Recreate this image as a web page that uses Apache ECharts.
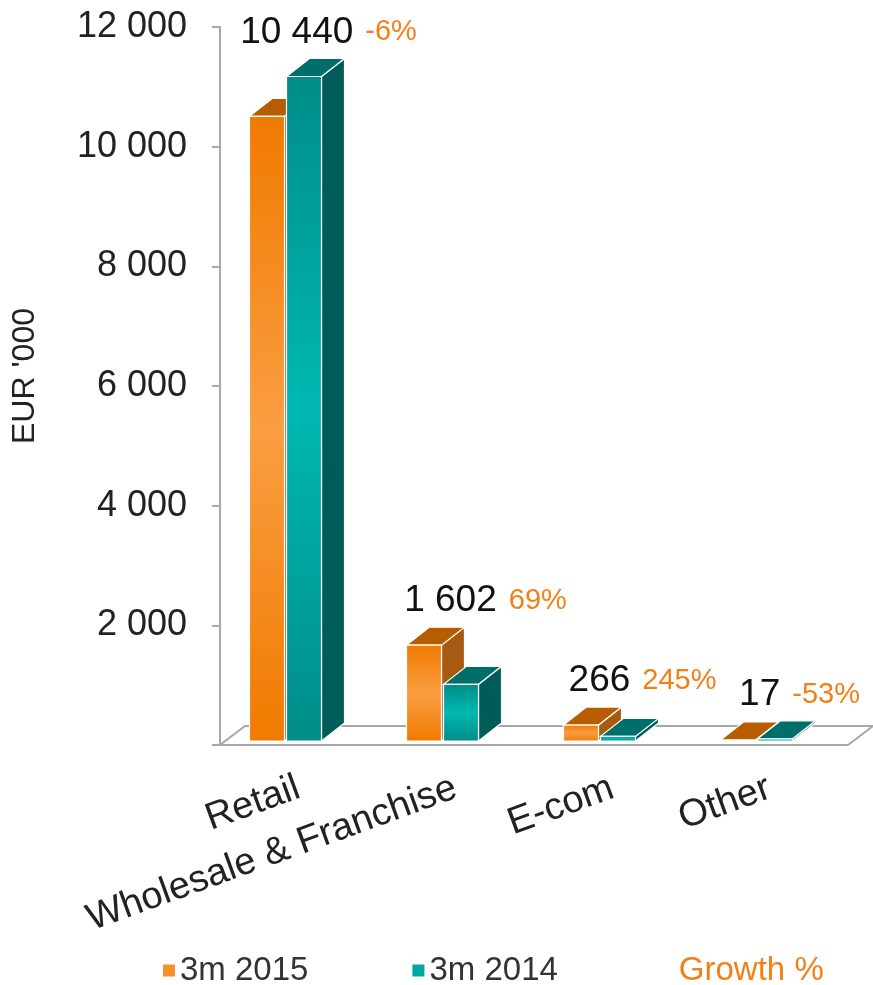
<!DOCTYPE html>
<html>
<head>
<meta charset="utf-8">
<script src="https://cdn.jsdelivr.net/npm/echarts@6/dist/echarts.min.js"></script>
<style>
  html, body { margin: 0; padding: 0; background: #fff; }
  #chart { width: 873px; height: 985px; }
</style>
</head>
<body>
<div id="chart"></div>
<script>
const categories = ['Retail', 'Wholesale & Franchise', 'E-com', 'Other'];
const sales2015 = [10440, 1602, 266, 17];
const sales2014 = [11106, 948, 77, 36];
const valueLabels = ['10 440', '1 602', '266', '17'];
const growthLabels = ['-6%', '69%', '245%', '-53%'];
const yTickLabels = ['', '2 000', '4 000', '6 000', '8 000', '10 000', '12 000'];

const FONT = 'Liberation Sans, Arial, sans-serif';
const ORANGE_TXT = '#F47F17';

// pseudo 3d look
const DX = 23, DY = 18, BAR_W = 35, BAR_GAP = 2, LIFT = 4, SHIFT = -49;

const palette = [
  {
    front: new echarts.graphic.LinearGradient(0, 0, 0, 1, [
      { offset: 0, color: '#F07A00' },
      { offset: 0.5, color: '#FA9E42' },
      { offset: 1, color: '#F07A00' }
    ]),
    top: '#B85C00',
    side: '#A65A12'
  },
  {
    front: new echarts.graphic.LinearGradient(0, 0, 0, 1, [
      { offset: 0, color: '#008C88' },
      { offset: 0.5, color: '#00B8B2' },
      { offset: 1, color: '#008C88' }
    ]),
    top: '#006E6A',
    side: '#005C58'
  }
];

function barRenderer(s) {
  return function (params, api) {
    const p = api.coord([api.value(0), api.value(1)]);
    const base = api.coord([api.value(0), 0]);
    const yTop = p[1] - LIFT;
    const yBase = base[1] - LIFT;
    const left = p[0] + SHIFT + s * (BAR_W + BAR_GAP);
    const right = left + BAR_W;
    const c = palette[s];
    const edge = { stroke: '#fff', lineWidth: 1.2 };
    return {
      type: 'group',
      children: [
        {
          type: 'polygon',
          shape: { points: [[right, yTop], [right + DX, yTop - DY], [right + DX, yBase - DY], [right, yBase]] },
          style: Object.assign({ fill: c.side }, edge)
        },
        {
          type: 'polygon',
          shape: { points: [[left, yTop], [right, yTop], [right + DX, yTop - DY], [left + DX, yTop - DY]] },
          style: Object.assign({ fill: c.top }, edge)
        },
        {
          type: 'rect',
          shape: { x: left, y: yTop, width: BAR_W, height: Math.max(yBase - yTop, 0.5) },
          style: Object.assign({ fill: c.front }, edge)
        }
      ]
    };
  };
}

const chart = echarts.init(document.getElementById('chart'));

chart.setOption({
  animation: false,
  grid: { left: 220, right: 25, top: 27, bottom: 240, outerBoundsMode: 'none', containLabel: false },
  legend: {
    left: 163,
    top: 954,
    padding: 0,
    itemWidth: 12,
    itemHeight: 12,
    itemGap: 104,
    textStyle: { fontFamily: FONT, fontSize: 33, color: '#333' },
    data: [
      { name: '3m 2015', icon: 'rect' },
      { name: '3m 2014', icon: 'rect' },
      { name: 'Growth %', icon: 'none', textStyle: { color: ORANGE_TXT } }
    ]
  },
  xAxis: {
    type: 'category',
    data: categories,
    axisLine: { lineStyle: { color: '#A8A8A8', width: 2 } },
    axisTick: { length: 12, lineStyle: { color: '#A8A8A8', width: 2 } },
    axisLabel: {
      rotate: 20,
      margin: 42,
      interval: 0,
      fontFamily: FONT,
      fontSize: 38,
      color: '#222'
    }
  },
  yAxis: {
    type: 'value',
    min: 0,
    max: 12000,
    interval: 2000,
    name: "EUR '000",
    nameLocation: 'middle',
    nameRotate: 90,
    nameGap: 179,
    nameTextStyle: { fontFamily: FONT, fontSize: 32, color: '#222', padding: [0, 0, 0, 20] },
    axisLine: { show: true, lineStyle: { color: '#A8A8A8', width: 2 } },
    axisTick: { show: true, length: 8, lineStyle: { color: '#A8A8A8', width: 2 } },
    splitLine: { show: false },
    axisLabel: {
      margin: 33,
      fontFamily: FONT,
      fontSize: 36,
      color: '#222',
      formatter: function (v) { return yTickLabels[Math.round(v / 2000)]; }
    }
  },
  series: [
    {
      // floor of the 3d plot area
      type: 'custom',
      silent: true,
      data: [[0, 0]],
      renderItem: function (params, api) {
        const r = params.coordSys;
        const yb = r.y + r.height;
        return {
          type: 'polygon',
          shape: { points: [[r.x, yb], [r.x + r.width, yb], [r.x + r.width + 25, yb - 19], [r.x + 25, yb - 19]] },
          style: { fill: '#fff', stroke: '#A8A8A8', lineWidth: 2 }
        };
      },
      z: 1
    },
    {
      name: '3m 2015',
      type: 'custom',
      itemStyle: { color: '#F7902A' },
      data: sales2015.map((v, i) => [i, v]),
      renderItem: barRenderer(0),
      z: 2
    },
    {
      name: '3m 2014',
      type: 'custom',
      itemStyle: { color: '#00A8A2' },
      data: sales2014.map((v, i) => [i, v]),
      renderItem: barRenderer(1),
      z: 3
    },
    {
      name: 'Growth %',
      type: 'custom',
      itemStyle: { color: ORANGE_TXT },
      data: categories.map((c, i) => [i, Math.max(sales2015[i], sales2014[i])]),
      renderItem: function (params, api) {
        const i = params.dataIndex;
        const p = api.coord([api.value(0), api.value(1)]);
        return {
          type: 'text',
          x: p[0] + 30,
          y: p[1] - LIFT - DY - 26,
          style: {
            text: '{v|' + valueLabels[i] + '}{g|' + growthLabels[i] + '}',
            align: 'center',
            verticalAlign: 'middle',
            rich: {
              v: { fontFamily: FONT, fontSize: 37, fill: '#111', color: '#111', verticalAlign: 'middle' },
              g: { fontFamily: FONT, fontSize: 29, fill: ORANGE_TXT, color: ORANGE_TXT, padding: [0, 0, 0, 12], verticalAlign: 'middle' }
            }
          }
        };
      },
      z: 4
    }
  ]
});
</script>
</body>
</html>
